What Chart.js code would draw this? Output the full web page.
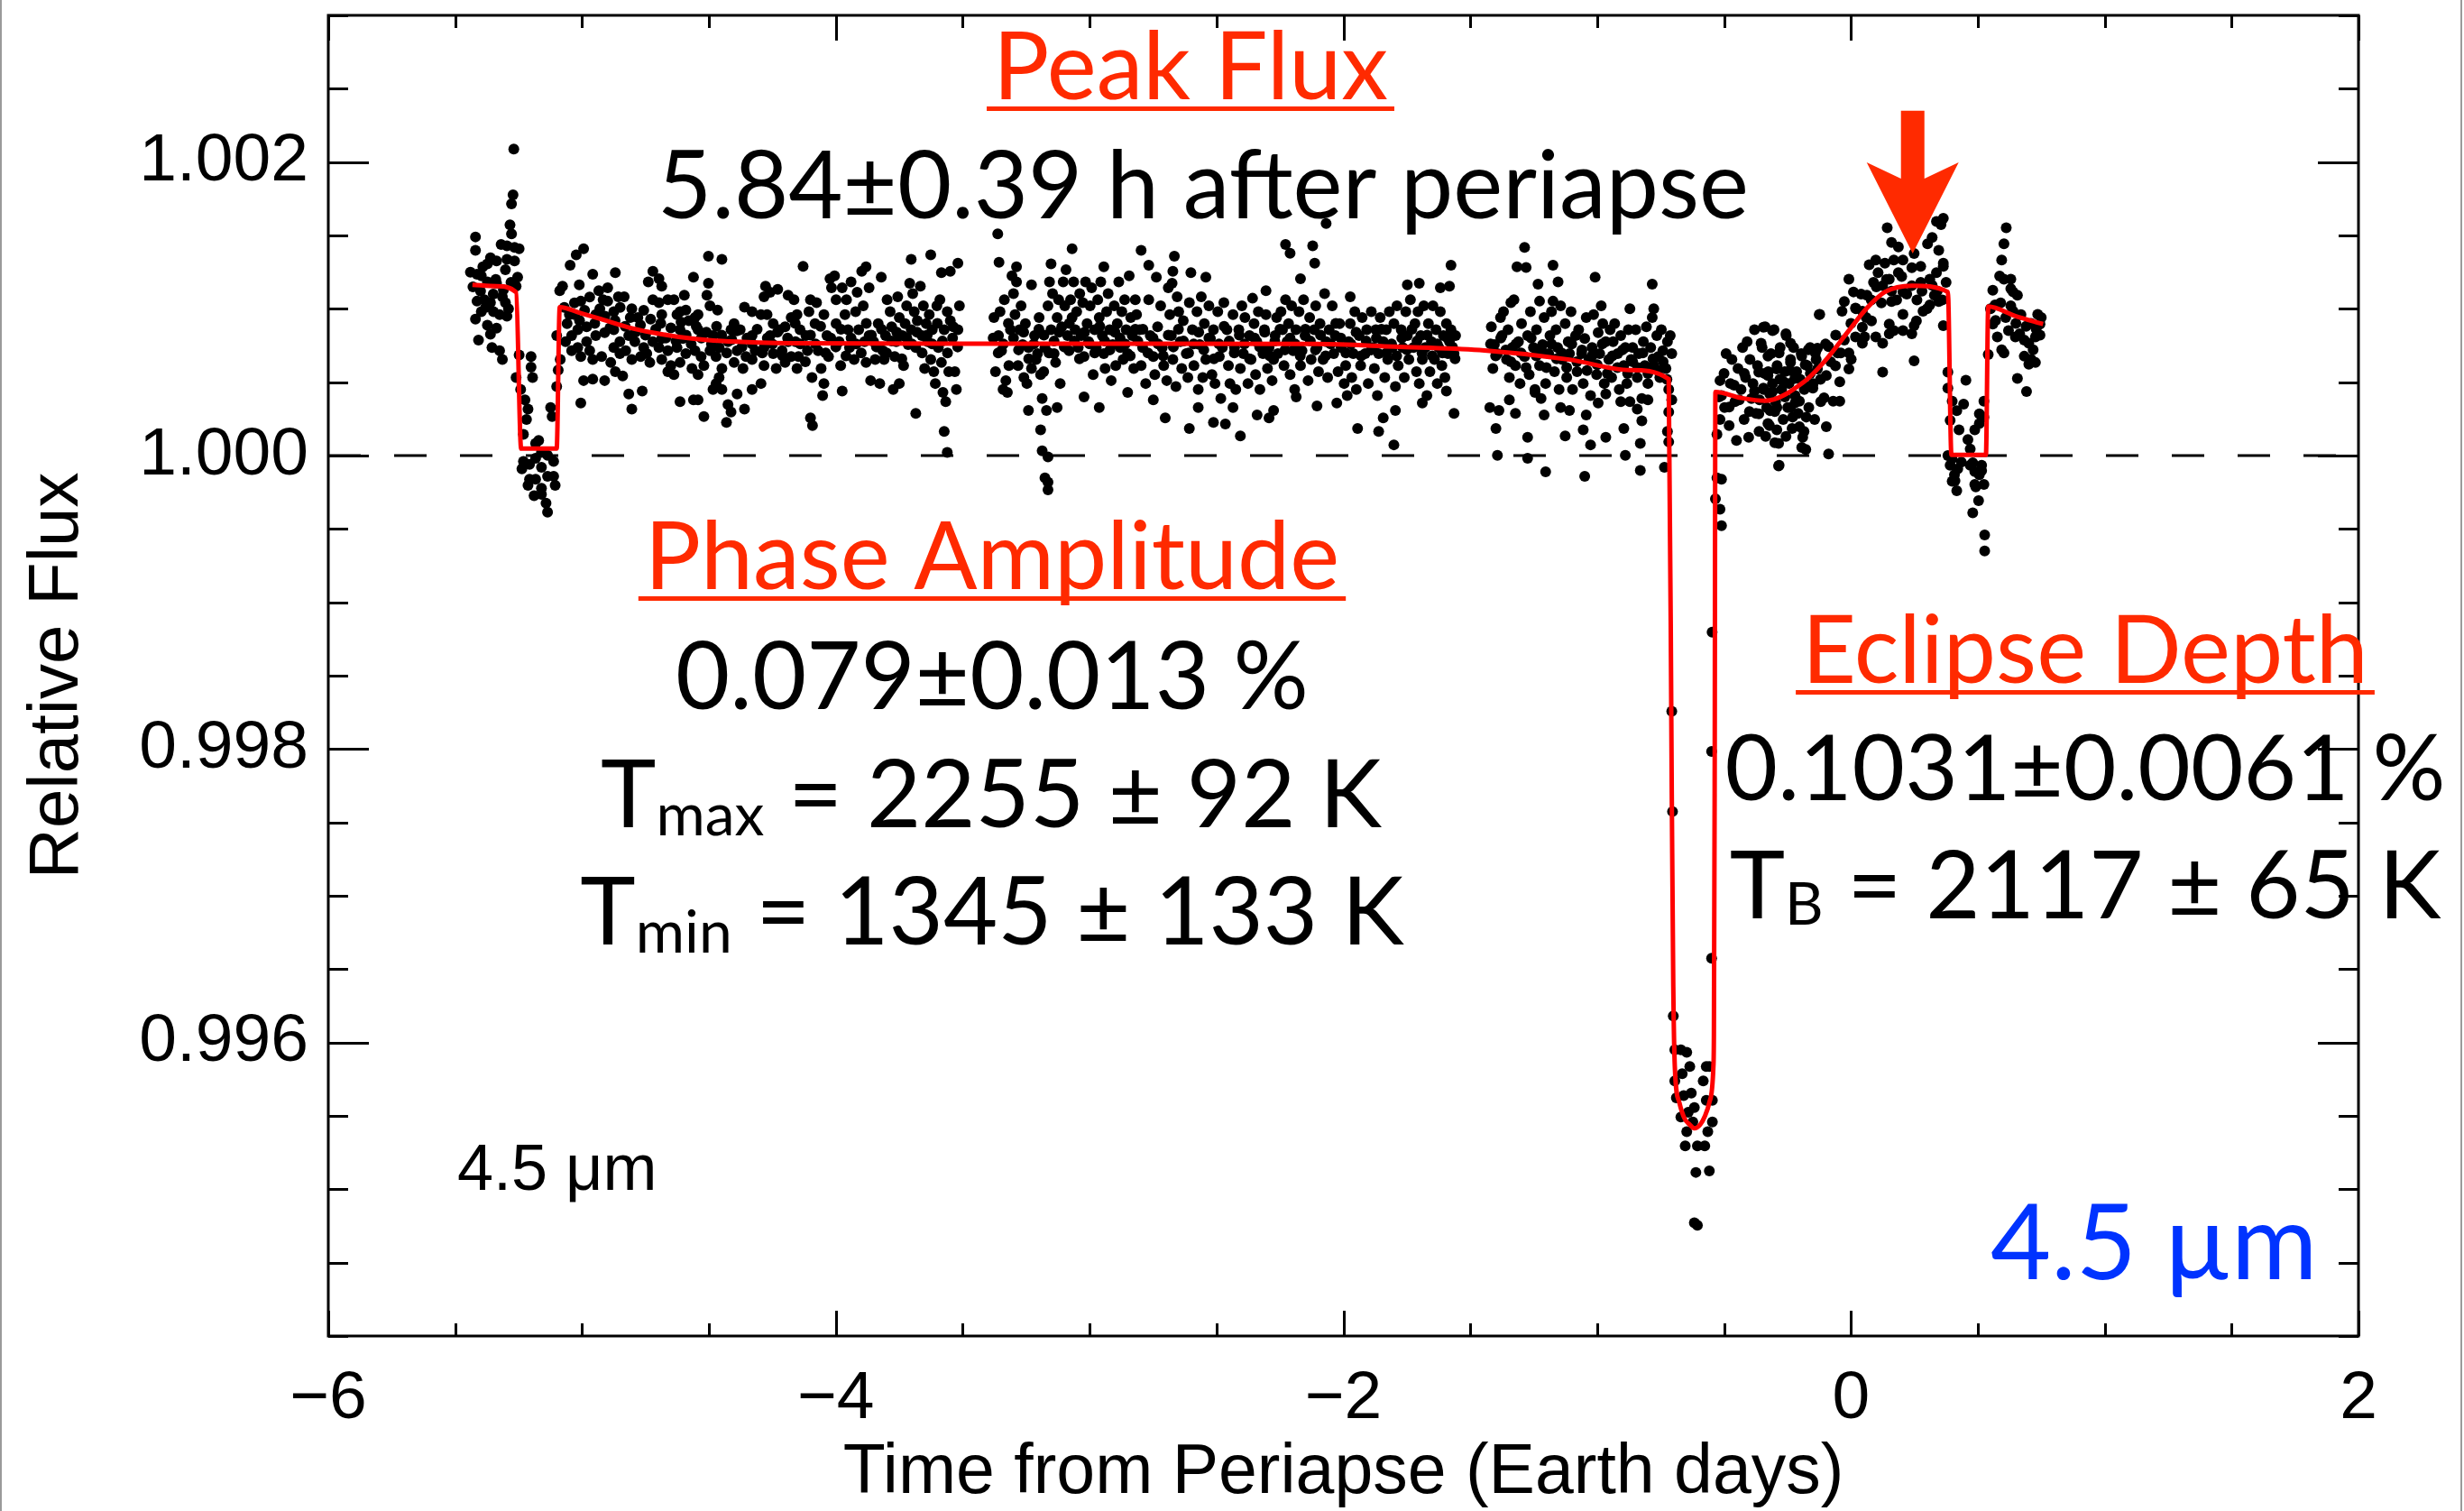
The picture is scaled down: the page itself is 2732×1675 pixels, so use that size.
<!DOCTYPE html>
<html>
<head>
<meta charset="utf-8">
<style>
  html, body { margin: 0; padding: 0; background: #ffffff; }
  #wrap { position: relative; width: 2732px; height: 1675px; }
</style>
<script src="https://cdn.jsdelivr.net/npm/chart.js@4.4.1/dist/chart.umd.min.js"></script>
</head>
<body>
<div id="wrap"><canvas id="lightcurve" width="2732" height="1675"></canvas></div>
<script>
// Axis ranges and labelled ticks
const xRange = [-6, 2];
const yRange = [0.994, 1.003];
const xTickValues = [-6, -4, -2, 0, 2];
const yTickValues = [0.996, 0.998, 1.000, 1.002];

// Photometry: [time from periapse (days), flux offset (ppm of stellar flux)]
const obsBeforeEclipse1 = [
  [-5.269,2088],[-5.272,1776],[-5.278,1715],[-5.284,1572],[-5.278,1511],[-5.420,1490],[-5.420,1399],[-5.319,1439],
  [-5.296,1429],[-5.266,1419],[-5.248,1409],[-5.361,1348],[-5.337,1327],[-5.296,1337],[-5.266,1327],[-5.391,1286],
  [-5.373,1307],[-5.302,1266],[-5.414,1235],[-5.397,1225],[-5.254,1215],[-5.373,1184],[-5.337,1174],[-5.260,1154],
  [-5.414,1052],[-5.385,1062],[-5.361,1042],[-5.314,1082],[-5.302,1042],[-5.397,980],[-5.349,980],[-5.325,960],
  [-5.296,950],[-5.373,889],[-5.337,868],[-5.361,827],[-5.408,787],[-5.355,736],[-5.325,715],[-5.314,654],
  [-5.430,1150],[-5.400,1120],[-5.350,1100],[-5.310,1130],[-5.280,1180],[-5.440,1250],[-5.380,1010],[-5.340,1200],
  [-5.290,1000],[-5.420,930]
];
const obsEclipse1 = [
  [-5.248,685],[-5.201,674],[-5.260,532],[-5.201,603],[-5.195,532],[-5.242,450],[-5.225,379],[-5.213,317],
  [-5.219,246],[-5.231,144],[-5.171,103],[-5.183,83],[-5.124,328],[-5.118,266],[-5.100,470],[-5.094,583],
  [-5.086,654],[-5.100,817],[-5.231,-40],[-5.237,-91],[-5.207,-60],[-5.183,-19],[-5.160,22],[-5.136,1],
  [-5.112,-40],[-5.160,-80],[-5.207,-162],[-5.213,-203],[-5.183,-162],[-5.160,-223],[-5.136,-142],[-5.112,-142],
  [-5.106,-203],[-5.189,-274],[-5.160,-264],[-5.142,-325],[-5.136,-386]
];
const obsOrbitA = [
  [-5.047,1297],[-5.023,1368],[-4.994,1409],[-4.958,1235],[-4.869,1246],[-5.088,1123],[-5.077,1154],[-5.011,1164],
  [-5.005,1052],[-4.934,1123],[-4.899,1144],[-4.917,1062],[-4.857,1082],[-4.834,1082],[-4.899,1052],[-4.804,1001],
  [-4.757,990],[-4.739,1184],[-4.721,1256],[-4.697,1205],[-4.686,1154],[-4.721,1062],[-4.697,1042],[-4.662,1062],
  [-4.638,1062],[-4.561,1215],[-4.502,1358],[-4.449,1337],[-4.502,1174],[-4.508,1093],[-4.496,1021],[-4.466,991],
  [-4.597,1093],[-4.591,991],[-4.626,960],[-4.579,919],[-4.555,940],[-4.614,858],[-4.277,1154],[-4.259,1113],
  [-4.229,1133],[-4.283,1082],[-4.188,1093],[-4.360,1011],[-4.330,980],[-4.295,960],[-4.247,899],[-4.200,878],
  [-5.059,899],[-5.017,858],[-4.982,878],[-5.041,817],[-4.982,776],[-4.946,817],[-4.911,838],[-4.875,858],
  [-4.851,776],[-4.816,817],[-4.792,776],[-4.757,736],[-4.721,776],[-4.697,736],[-4.662,715],[-4.626,736],
  [-4.591,695],[-4.555,715],[-4.531,674],[-4.496,715],[-4.460,736],[-4.425,776],[-4.389,715],[-4.354,674],
  [-4.318,715],[-4.283,736],[-4.247,695],[-4.212,715],[-4.176,674],[-5.041,715],[-5.005,674],[-4.958,654],
  [-4.923,674],[-4.887,634],[-4.851,695],[-4.804,654],[-4.769,674],[-4.733,634],[-4.686,654],[-4.650,613],
  [-4.614,634],[-4.567,593],[-4.520,613],[-4.472,674],[-4.449,593],[-4.401,634],[-4.366,593],[-4.330,654],
  [-4.283,613],[-4.235,593],[-4.200,634],[-5.065,776],[-5.017,736],[-4.970,715],[-4.875,736],[-4.828,715],
  [-4.745,695],[-4.686,797],[-4.603,797],[-4.543,858],[-4.484,817],[-4.413,858],[-4.377,858],[-4.330,817],
  [-4.259,817],[-4.223,858],[-4.188,776],[-4.994,511],[-4.958,521],[-4.911,511],[-4.869,572],[-4.840,542],
  [-4.816,419],[-4.804,317],[-4.763,440],[-5.005,358],[-4.638,552],[-4.614,368],[-4.561,379],[-4.543,379],
  [-4.520,266],[-4.484,450],[-4.472,491],[-4.449,450],[-4.425,348],[-4.431,226],[-4.413,297],[-4.389,419],
  [-4.360,317],[-4.330,450],[-4.295,491],[-4.543,552],[-4.460,532],[-4.662,572],[-4.780,940],[-4.686,960],
  [-4.614,980],[-4.543,960],[-4.401,899],[-4.271,960],[-4.176,940],[-4.946,960],[-4.875,980],[-5.029,960],
  [-5.07,1010],[-5.05,960],[-5.03,1040],[-5.01,920],[-4.99,990],[-4.97,1080],[-4.95,900],[-4.93,1000],
  [-4.91,950],[-4.89,870],[-4.87,920],[-4.85,1010],[-4.83,880],[-4.81,940],[-4.79,840],[-4.77,890],
  [-4.75,820],[-4.73,930],[-4.71,860],[-4.69,900],[-4.67,800],[-4.65,870],[-4.63,780],[-4.61,910],
  [-4.59,820],[-4.57,760],[-4.55,880],[-4.53,800],[-4.51,840],[-4.49,760],[-4.47,880],[-4.45,820],
  [-4.43,700],[-4.41,790],[-4.39,850],[-4.37,740],[-4.35,800],[-4.33,760],[-4.31,860],[-4.29,700],
  [-4.27,800],[-4.25,760],[-4.23,840],[-4.21,680],[-4.19,800]
];
const obsOrbitB = [
  [-4.165,1062],[-4.153,960],[-4.141,858],[-4.159,776],[-4.147,674],[-4.153,593],[-4.118,817],[-4.106,980],
  [-4.100,1062],[-4.112,715],[-4.094,532],[-4.082,899],[-4.076,1042],[-4.070,715],[-4.058,593],[-4.047,960],
  [-4.047,491],[-4.035,817],[-4.029,674],[-4.023,1205],[-4.017,1144],[-4.005,1225],[-3.999,1062],[-3.999,899],
  [-3.987,776],[-3.981,613],[-3.975,1144],[-3.975,440],[-3.964,960],[-3.958,1062],[-3.952,858],[-3.946,736],
  [-3.940,1184],[-3.928,654],[-3.922,980],[-3.916,1113],[-3.910,858],[-3.898,1256],[-3.892,1021],[-3.887,776],
  [-3.881,1286],[-3.881,634],[-3.869,1144],[-3.869,817],[-3.863,511],[-3.851,776],[-3.845,654],[-3.833,899],
  [-3.827,491],[-3.821,1215],[-3.815,715],[-3.810,654],[-3.804,817],[-3.798,1062],[-3.786,980],[-3.780,878],
  [-3.774,450],[-3.768,674],[-3.762,776],[-3.756,1082],[-3.750,940],[-3.750,491],[-3.738,817],[-3.733,613],
  [-3.727,899],[-3.721,1021],[-3.715,756],[-3.709,1174],[-3.703,858],[-3.697,1103],[-3.691,980],[-3.685,736],
  [-3.679,919],[-3.667,1154],[-3.661,817],[-3.655,1021],[-3.650,593],[-3.644,899],[-3.638,776],[-3.632,960],
  [-3.626,654],[-3.620,858],[-3.614,572],[-3.608,491],[-3.602,1021],[-3.596,736],[-3.590,1062],[-3.584,634],
  [-3.578,430],[-3.573,858],[-3.567,368],[-3.561,980],[-3.555,572],[-3.549,919],[-3.537,878],[-3.531,572],
  [-3.525,450],[-3.519,858],[-3.513,1021],[-4.129,1290],[-4.100,256],[-4.092,205],[-4.052,409],[-3.685,287],
  [-3.703,1337],[-3.626,1368],[-3.584,1246],[-3.549,1256],[-3.519,1311],[-3.573,164],[-3.561,22],
  [-3.377,940],[-3.371,572],[-3.359,817],[-3.353,980],[-3.347,715],[-3.341,450],[-3.336,1062],[-3.330,511],
  [-3.324,430],[-3.318,613],[-3.312,858],[-3.306,1225],[-3.300,1103],[-3.294,960],[-3.288,1184],[-3.282,613],
  [-3.276,858],[-3.270,1021],[-3.264,756],[-3.259,532],[-3.253,899],[-3.247,491],[-3.241,736],[-3.229,1164],
  [-3.229,593],[-3.217,817],[-3.211,654],[-3.205,695],[-3.199,940],[-3.193,552],[-3.187,389],[-3.181,572],
  [-3.176,736],[-3.164,1021],[-3.158,1184],[-3.152,858],[-3.146,1103],[-3.140,695],[-3.134,634],[-3.128,940],
  [-3.122,1062],[-3.116,491],[-3.110,878],[-3.104,1184],[-3.098,1021],[-3.093,1266],[-3.087,817],[-3.081,715],
  [-3.075,1062],[-3.069,940],[-3.063,1184],[-3.057,858],[-3.051,980],[-3.045,736],[-3.039,1103],[-3.033,817],
  [-3.027,1042],[-3.022,674],[-3.016,1184],[-3.010,899],[-3.004,776],[-2.998,1021],[-2.992,1144],[-2.986,552],
  [-2.980,858],[-2.974,736],[-2.968,1062],[-2.962,940],[-2.956,1184],[-2.950,817],[-2.944,695],[-2.939,593],
  [-2.933,980],[-2.927,1103],[-2.921,858],[-2.915,511],[-2.909,756],[-2.903,1021],[-2.897,613],[-2.891,899],
  [-2.885,1184],[-2.879,736],[-2.873,980],[-2.868,654],[-2.862,1062],[-2.856,858],[-2.850,695],[-2.844,1225],
  [-2.838,940],[-2.832,817],[-2.826,593],[-2.820,1062],[-3.362,1511],[-3.357,1317],[-3.288,1286],[-3.152,1307],
  [-3.069,1409],[-2.944,1286],[-3.241,307],[-3.170,307],[-3.128,328],[-3.193,175],[-3.187,32],[-3.164,-9],
  [-3.176,-152],[-3.164,-182],[-3.164,-233],[-2.962,328],[-3.022,399],[-2.850,430],
  [-4.16,900],[-4.14,760],[-4.12,640],[-4.10,820],[-4.08,760],[-4.06,880],[-4.04,700],[-4.02,800],
  [-4.00,740],[-3.98,860],[-3.96,680],[-3.94,800],[-3.92,760],[-3.90,700],[-3.88,900],[-3.86,820],
  [-3.84,740],[-3.82,860],[-3.80,700],[-3.78,780],[-3.76,840],[-3.74,660],[-3.72,800],[-3.70,760],
  [-3.68,840],[-3.66,700],[-3.64,820],[-3.62,760],[-3.60,900],[-3.58,780],[-3.56,700],[-3.54,800],
  [-3.52,740],[-3.38,800],[-3.36,700],[-3.34,760],[-3.32,900],[-3.30,800],[-3.28,720],[-3.26,840],
  [-3.24,660],[-3.22,760],[-3.20,860],[-3.18,820],[-3.16,700],[-3.14,780],[-3.12,840],[-3.10,740],
  [-3.08,900],[-3.06,780],[-3.04,660],[-3.02,840],[-3.00,760],[-2.98,700],[-2.96,880],[-2.94,780],
  [-2.92,720],[-2.90,840],[-2.88,800],[-2.86,760],[-2.84,680],[-2.82,860]
];
const obsOrbitC = [
  [-2.815,960],[-2.803,858],[-2.791,736],[-2.797,613],[-2.779,491],[-2.767,1062],[-2.761,817],[-2.749,674],
  [-2.743,552],[-2.732,878],[-2.720,1021],[-2.714,736],[-2.708,613],[-2.696,511],[-2.690,1144],[-2.684,960],
  [-2.678,817],[-2.672,654],[-2.660,470],[-2.655,1082],[-2.649,980],[-2.643,776],[-2.637,593],[-2.631,919],
  [-2.619,695],[-2.613,532],[-2.607,1042],[-2.595,858],[-2.589,613],[-2.577,980],[-2.572,450],[-2.566,756],
  [-2.560,1082],[-2.554,532],[-2.548,899],[-2.542,654],[-2.530,1021],[-2.524,797],[-2.518,552],[-2.512,858],
  [-2.506,491],[-2.495,980],[-2.489,674],[-2.483,389],[-2.477,736],[-2.471,1042],[-2.459,858],[-2.453,613],
  [-2.447,491],[-2.435,960],[-2.429,736],[-2.424,450],[-2.412,858],[-2.406,593],[-2.400,1021],[-2.394,695],
  [-2.388,940],[-2.376,491],[-2.370,817],[-2.364,654],[-2.352,899],[-2.346,552],[-2.341,776],[-2.335,980],
  [-2.329,450],[-2.317,695],[-2.311,858],[-2.305,960],[-2.299,593],[-2.293,736],[-2.281,511],[-2.275,654],
  [-2.269,817],[-2.263,940],[-2.258,695],[-2.246,980],[-2.240,858],[-2.234,613],[-2.228,1062],[-2.222,776],
  [-2.216,899],[-2.210,552],[-2.204,1021],[-2.198,715],[-2.192,450],[-2.187,858],[-2.175,980],[-2.169,613],
  [-2.163,715],[-2.157,1062],[-2.151,817],[-2.139,511],[-2.133,940],[-2.127,654],[-2.115,858],[-2.109,1021],
  [-2.104,736],[-2.098,572],[-2.092,899],[-2.080,654],[-2.074,1103],[-2.068,776],[-2.062,532],[-2.056,858],
  [-2.044,1021],[-2.038,695],[-2.032,817],[-2.021,572],[-2.015,899],[-2.009,736],[-1.997,491],[-1.991,613],
  [-1.985,409],[-1.979,776],[-1.973,899],[-1.967,532],[-1.961,695],[-1.955,980],[-1.949,450],[-1.938,817],
  [-1.932,613],[-1.926,940],[-1.914,695],[-1.908,858],[-1.902,491],[-1.890,980],[-1.884,736],[-1.878,593],
  [-1.872,858],[-1.866,409],[-1.861,695],[-1.855,940],[-1.843,776],[-1.837,532],[-1.831,858],[-1.825,654],
  [-1.819,980],[-1.807,736],[-1.801,899],[-1.795,470],[-1.789,1021],[-1.784,613],[-1.772,858],[-1.766,736],
  [-1.760,532],[-1.754,980],[-1.748,817],[-1.742,654],[-1.736,1062],[-1.724,736],[-1.718,899],[-1.712,572],
  [-1.706,980],[-1.701,491],[-1.695,817],[-1.689,654],[-1.683,1021],[-1.677,736],[-1.671,409],[-1.665,899],
  [-1.659,572],[-1.653,776],[-1.647,1021],[-1.641,654],[-1.635,858],[-1.630,491],[-1.624,736],[-1.618,980],
  [-1.612,613],[-1.606,817],[-1.600,532],[-1.594,899],[-1.588,695],[-1.582,776],[-1.576,858],[-1.564,695],
  [-1.558,817],[-2.797,1399],[-2.767,1297],[-2.666,1358],[-2.672,1256],[-2.601,1246],[-2.542,1215],[-2.737,1215],
  [-2.675,1174],[-2.228,1439],[-2.210,1378],[-2.121,1429],[-2.113,1311],[-2.068,1582],[-2.169,1205],[-1.576,1297],
  [-1.701,1174],[-1.748,1164],[-1.582,1154],[-1.618,1144],[-1.973,1082],[-2.305,1123],[-2.358,1072],[-2.749,379],
  [-2.702,256],[-2.607,185],[-2.512,226],[-2.465,215],[-2.406,134],[-2.340,277],[-2.293,256],[-2.275,307],
  [-2.435,328],[-2.572,328],[-2.186,399],[-2.104,338],[-2.026,358],[-1.944,185],[-1.861,164],[-1.843,256],
  [-1.795,307],[-1.801,73],[-1.689,358],[-1.564,287],[-1.594,440],
  [-2.81,780],[-2.79,860],[-2.77,700],[-2.75,800],[-2.73,760],[-2.71,680],[-2.69,820],[-2.67,740],
  [-2.65,860],[-2.63,780],[-2.61,700],[-2.59,760],[-2.57,840],[-2.55,720],[-2.53,800],[-2.51,660],
  [-2.49,760],[-2.47,880],[-2.45,780],[-2.43,700],[-2.41,820],[-2.39,760],[-2.37,660],[-2.35,800],
  [-2.33,740],[-2.31,840],[-2.29,680],[-2.27,780],[-2.25,860],[-2.23,720],[-2.21,800],[-2.19,760],
  [-2.17,680],[-2.15,860],[-2.13,780],[-2.11,720],[-2.09,820],[-2.07,680],[-2.05,760],[-2.03,900],
  [-2.01,800],[-1.99,700],[-1.97,760],[-1.95,840],[-1.93,680],[-1.91,780],[-1.89,720],[-1.87,800],
  [-1.85,860],[-1.83,700],[-1.81,760],[-1.79,680],[-1.77,800],[-1.75,720],[-1.73,860],[-1.71,780],
  [-1.69,700],[-1.67,820],[-1.65,680],[-1.63,760],[-1.61,700],[-1.59,800],[-1.57,740],[-1.56,660]
];
const obsOrbitD = [
  [-1.417,878],[-1.405,756],[-1.411,593],[-1.393,695],[-1.381,940],[-1.375,817],[-1.369,980],[-1.357,654],
  [-1.351,858],[-1.346,532],[-1.340,1042],[-1.334,736],[-1.322,613],[-1.310,776],[-1.304,491],[-1.298,899],
  [-1.286,674],[-1.274,817],[-1.268,552],[-1.263,980],[-1.251,736],[-1.245,450],[-1.239,858],[-1.227,613],
  [-1.215,756],[-1.209,940],[-1.203,491],[-1.191,695],[-1.186,817],[-1.180,980],[-1.168,572],[-1.162,858],
  [-1.156,736],[-1.150,450],[-1.144,1021],[-1.138,654],[-1.126,899],[-1.120,532],[-1.114,776],[-1.109,695],
  [-1.103,980],[-1.097,450],[-1.085,817],[-1.079,572],[-1.073,858],[-1.061,695],[-1.055,491],[-1.049,797],
  [-1.043,940],[-1.032,654],[-1.026,409],[-1.020,736],[-1.014,960],[-1.002,552],[-0.996,838],[-0.990,695],
  [-0.978,899],[-0.972,491],[-0.966,776],[-0.954,654],[-0.949,858],[-0.943,532],[-0.937,776],[-0.931,899],
  [-0.919,695],[-0.913,450],[-0.907,817],[-0.895,613],[-0.889,736],[-0.883,491],[-0.877,858],[-0.871,368],
  [-0.866,654],[-0.860,736],[-0.848,858],[-0.842,532],[-0.836,695],[-0.824,389],[-0.818,776],[-0.812,613],
  [-0.806,878],[-0.800,491],[-0.789,736],[-0.783,940],[-0.777,613],[-0.765,817],[-0.759,674],[-0.753,532],
  [-0.747,858],[-0.741,715],[-0.729,593],[-0.723,776],[-0.718,450],[-0.712,817],[-0.706,695],
  [-1.286,1419],[-1.316,1286],[-1.280,1282],[-1.174,1297],[-1.233,1168],[-1.154,1184],[-1.008,1215],[-0.783,1168],
  [-1.328,1062],[-1.227,1052],[-1.174,1052],[-0.984,1021],[-0.871,1001],[-0.777,1001],[-1.393,1],[-1.274,-19],
  [-1.203,-111],[-1.049,-142],[-1.026,73],[-0.966,124],[-0.889,1],[-0.830,-101],[-0.830,83],[-0.735,-80],
  [-0.718,93],[-1.399,185],[-1.274,124],[-1.126,134],[-1.055,175],[-0.895,185],[-0.824,236],[-0.723,164],
  [-0.718,297],[-1.423,328],[-1.387,307],[-1.322,287],[-1.209,277],[-1.144,328],[-1.109,307],[-1.043,277],
  [-0.996,358],[-0.907,368],[-0.842,317],[-0.800,379],[-0.966,419],[-1.346,379],[-1.245,430],[-1.221,389],
  [-0.706,379],
  [-1.42,760],[-1.40,680],[-1.38,800],[-1.36,720],[-1.34,640],[-1.32,760],[-1.30,700],[-1.28,600],
  [-1.26,800],[-1.24,680],[-1.22,720],[-1.20,600],[-1.18,760],[-1.16,660],[-1.14,700],[-1.12,600],
  [-1.10,760],[-1.08,640],[-1.06,720],[-1.04,580],[-1.02,680],[-1.00,620],[-0.98,760],[-0.96,560],
  [-0.94,680],[-0.92,600],[-0.90,720],[-0.88,560],[-0.86,640],[-0.84,600],[-0.82,700],[-0.80,560],
  [-0.78,660],[-0.76,580],[-0.74,640],[-0.725,520]
];
const obsTransit = [
  [-0.706,-1743],[-0.703,-2426],[-0.700,-3819],[-0.547,-1204],[-0.549,-2016],[-0.549,-3426],
  [-0.694,-4049],[-0.670,-4049],[-0.647,-4066],[-0.635,-4164],[-0.665,-4213],[-0.694,-4262],[-0.570,-4164],
  [-0.558,-4164],[-0.582,-4262],[-0.688,-4377],[-0.659,-4361],[-0.629,-4345],[-0.570,-4394],[-0.546,-4394],
  [-0.670,-4508],[-0.641,-4476],[-0.617,-4443],[-0.623,-4541],[-0.546,-4541],[-0.647,-4607],[-0.564,-4607],
  [-0.653,-4705],[-0.605,-4705],[-0.576,-4705],[-0.611,-4885],[-0.558,-4875],[-0.617,-5229],[-0.605,-5246]
];
const obsAfterTransit = [
  [-0.516,246],[-0.528,144],[-0.516,511],[-0.510,409],[-0.498,328],[-0.492,695],[-0.480,205],[-0.475,491],
  [-0.469,654],[-0.457,368],[-0.451,103],[-0.445,593],[-0.433,450],[-0.427,736],[-0.421,246],[-0.415,532],
  [-0.409,776],[-0.403,124],[-0.398,654],[-0.392,389],[-0.386,491],[-0.380,858],[-0.374,287],[-0.368,613],
  [-0.362,164],[-0.350,736],[-0.344,450],[-0.338,878],[-0.332,328],[-0.326,572],[-0.321,205],[-0.315,695],
  [-0.309,491],[-0.303,858],[-0.297,368],[-0.291,613],[-0.285,83],[-0.279,736],[-0.273,450],[-0.267,246],
  [-0.261,572],[-0.255,817],[-0.249,328],[-0.244,491],[-0.238,654],[-0.232,185],[-0.226,736],[-0.220,409],
  [-0.214,572],[-0.208,287],[-0.196,695],[-0.190,124],[-0.184,450],[-0.178,42],[-0.172,613],[-0.166,328],
  [-0.161,736],[-0.149,491],[-0.143,246],[-0.137,654],[-0.125,960],[-0.119,368],[-0.285,-70],[-0.528,-152],
  [-0.510,-162],[-0.534,-295],[-0.516,-366],[-0.510,-478],
  [-0.345,874],[-0.309,852],[-0.256,830],[-0.354,765],[-0.327,677],[-0.283,699],[-0.238,765],[-0.363,568],
  [-0.327,546],[-0.292,590],[-0.238,634],[-0.194,677],[-0.168,721],[-0.132,732],[-0.088,743],[-0.132,590],
  [-0.097,546],[-0.061,612],[-0.008,590],[-0.345,459],[-0.309,437],[-0.265,503],[-0.221,525],[-0.185,481],
  [-0.150,459],[-0.106,393],[-0.070,371],[-0.044,371],[-0.363,284],[-0.318,306],[-0.292,328],[-0.238,328],
  [-0.203,371],[-0.327,218],[-0.292,175],[-0.336,131],[-0.300,87],[-0.256,131],[-0.203,197],[-0.185,164],
  [-0.194,55],[-0.097,197],[-0.088,11],[-0.283,-66],[-0.123,962],[-0.035,984],[-0.230,262],[-0.176,262],
  [-0.52,400],[-0.50,560],[-0.48,330],[-0.46,480],[-0.44,380],[-0.42,560],[-0.40,300],[-0.38,440],
  [-0.36,380],[-0.34,560],[-0.32,420],[-0.30,300],[-0.28,520],[-0.26,400],[-0.24,580],[-0.22,360],
  [-0.20,520],[-0.18,620],[-0.16,560],[-0.14,700],[-0.12,520],[-0.10,760],[-0.08,640],[-0.06,820],[-0.04,700]
];
const obsNearPeak = [
  [-0.008,1202],[0.010,1115],[-0.026,1049],[0.018,1005],[0.063,1093],[0.045,984],[0.072,1300],[0.098,1333],
  [0.107,1246],[0.134,1311],[0.089,1180],[0.125,1158],[0.151,1202],[0.169,1333],[0.187,1246],[0.160,1049],
  [0.205,1115],[0.240,1158],[0.275,1180],[0.311,1202],[0.337,1246],[0.364,1290],[0.045,874],[0.081,918],
  [0.098,809],[0.125,765],[0.151,896],[0.169,852],[0.205,852],[0.240,830],[0.249,885],[-0.026,787],
  [0.018,809],[0.045,765],[-0.008,699],[-0.052,699],[-0.044,503],[0.001,656],[0.054,809],[0.125,568],
  [0.249,645],[0.143,1552],[0.160,1453],[0.187,1421],[0.205,1333],[0.231,1508],[0.249,1377],[0.275,1290],
  [0.302,1443],[0.320,1486],[0.337,1595],[0.355,1574],[0.364,1617],[0.346,1399],[0.364,1311],[0.284,984],
  [0.311,1027],[0.329,1093],[0.346,1049],[0.364,885],[0.258,918],[0.151,830],[0.205,962],
  [0.00,900],[0.02,1000],[0.04,1100],[0.06,940],[0.08,1060],[0.10,1150],[0.12,1040],[0.14,1200],
  [0.16,1120],[0.18,1060],[0.20,1220],[0.22,1100],[0.24,1280],[0.26,1060],[0.28,1120],[0.30,1000],
  [0.32,1160],[0.34,1120],[0.36,1060],[0.375,1180]
];
const obsEclipse2 = [
  [0.382,568],[0.382,459],[0.399,371],[0.417,306],[0.444,350],[0.453,514],[0.391,240],[0.426,175],
  [0.461,109],[0.488,175],[0.506,284],[0.506,218],[0.524,371],[0.524,262],[0.391,-66],[0.408,-131],
  [0.399,-175],[0.435,-44],[0.470,-66],[0.488,-109],[0.515,-66],[0.506,-131],[0.488,-197],[0.524,-197],
  [0.417,-240],[0.470,44],[0.382,0],[0.398,-21],[0.421,-90],[0.410,-172],[0.480,-49],[0.515,-103],
  [0.492,-213],[0.503,-308],[0.480,-390],[0.527,-541],[0.527,-650]
];
const obsAfterEclipse2 = [
  [0.559,1126],[0.586,1224],[0.594,1333],[0.603,1443],[0.612,1552],[0.603,1202],[0.630,1137],[0.656,1093],
  [0.630,1202],[0.639,1115],[0.568,1027],[0.559,896],[0.577,809],[0.594,721],[0.621,852],[0.648,809],
  [0.665,830],[0.683,787],[0.701,765],[0.718,721],[0.727,809],[0.745,820],[0.683,677],[0.710,656],
  [0.727,634],[0.701,623],[0.736,962],[0.745,896],[0.541,688],[0.603,699],[0.656,525],[0.692,437],[0.639,984],
  [0.55,1000],[0.57,920],[0.59,1040],[0.61,940],[0.63,1020],[0.65,900],[0.67,960],[0.69,880],
  [0.71,900],[0.73,860],[0.75,940]
];

// Best-fit phase curve with eclipses and transit: [time (days), flux offset (ppm)]
const modelCurve = [
  [-5.432,1164],[-5.337,1154],[-5.260,1113],[-5.240,47],[-5.100,47],[-5.088,1011],[-5.005,970],[-4.923,929],
  [-4.804,868],[-4.686,827],[-4.567,797],[-4.449,780],[-4.300,770],[-4.165,766],[-3.500,763],[-2.815,763],
  [-2.104,760],[-1.800,742],[-1.464,719],[-1.109,654],[-0.871,583],[-0.718,521],[-0.706,-2300],[-0.700,-3620],
  [-0.694,-4164],[-0.676,-4410],[-0.655,-4520],[-0.635,-4560],[-0.617,-4585],[-0.594,-4560],[-0.575,-4500],
  [-0.558,-4410],[-0.542,-4164],[-0.540,-3950],[-0.537,-2300],[-0.534,434],[-0.433,393],[-0.339,373],
  [-0.185,503],[-0.097,656],[-0.008,852],[0.063,1005],[0.134,1115],[0.240,1158],[0.382,1115],[0.396,4],
  [0.532,4],[0.541,1016],[0.648,951],[0.757,896]
];

// Fitted quantities quoted on the figure
const peakOffsetHours = 5.84;
const peakArrow = { topPpm: 2350, tipPpm: 1377 };

const toFlux = ([t, ppm]) => ({ x: t, y: 1 + ppm * 1e-6 });
const observations = [].concat(
  obsBeforeEclipse1, obsEclipse1, obsOrbitA, obsOrbitB, obsOrbitC, obsOrbitD,
  obsTransit, obsAfterTransit, obsNearPeak, obsEclipse2, obsAfterEclipse2
).map(toFlux);

const RED = '#ff2a00';
const GILL = "'Gill Sans', 'Gill Sans MT', Lato, sans-serif";
const HELV = "'Liberation Sans', Arial, Helvetica, sans-serif";

function drawRich(ctx, parts, cx, baseline, color) {
  let total = 0;
  parts.forEach(p => { ctx.font = p.font; p.w = ctx.measureText(p.t).width; total += p.w; });
  let xx = cx - total / 2;
  ctx.fillStyle = color;
  ctx.textAlign = 'left';
  ctx.textBaseline = 'alphabetic';
  parts.forEach(p => { ctx.font = p.font; ctx.fillText(p.t, xx, baseline + (p.dy || 0)); xx += p.w; });
  return { left: cx - total / 2, width: total };
}

function heading(ctx, text, cx, baseline) {
  const r = drawRich(ctx, [{ t: text, font: `104px ${GILL}` }], cx, baseline, RED);
  ctx.fillStyle = RED;
  ctx.fillRect(r.left - 7, baseline + 8, r.width + 14, 5);
}

const figureDecor = {
  id: 'figureDecor',
  afterDatasetsDraw(chart) {
    const { ctx, chartArea: a, scales: { x, y } } = chart;
    ctx.save();
    ctx.strokeStyle = '#000';
    ctx.lineWidth = 3;
    ctx.lineCap = 'butt';
    ctx.strokeRect(a.left, a.top, a.right - a.left, a.bottom - a.top);
    ctx.beginPath();
    for (let i = 0; i <= 16; i++) {
      const v = xRange[0] + i * 0.5;
      const px = Math.round(x.getPixelForValue(v)) + 0.5;
      const len = xTickValues.some(t => Math.abs(t - v) < 1e-9) ? 28 : 14;
      ctx.moveTo(px, a.bottom); ctx.lineTo(px, a.bottom - len);
      ctx.moveTo(px, a.top); ctx.lineTo(px, a.top + len);
    }
    for (let i = 0; i <= 18; i++) {
      const v = yRange[0] + i * 0.0005;
      const py = Math.round(y.getPixelForValue(v)) + 0.5;
      const len = yTickValues.some(t => Math.abs(t - v) < 1e-9) ? 45 : 22;
      ctx.moveTo(a.left, py); ctx.lineTo(a.left + len, py);
      ctx.moveTo(a.right, py); ctx.lineTo(a.right - len, py);
    }
    ctx.stroke();
    ctx.restore();
  },
  afterDraw(chart) {
    const { ctx, scales: { x, y } } = chart;
    ctx.save();

    // page edges
    ctx.fillStyle = '#9a9a9a';
    ctx.fillRect(0, 0, 2, chart.height);
    ctx.fillRect(chart.width - 4, 0, 2, chart.height);

    // peak-time arrow
    const ax = x.getPixelForValue(peakOffsetHours / 24);
    const yTop = y.getPixelForValue(1 + peakArrow.topPpm * 1e-6);
    const yTip = y.getPixelForValue(1 + peakArrow.tipPpm * 1e-6);
    const headLen = 101, barb = 51, shaft = 13, notch = 18;
    ctx.fillStyle = RED;
    ctx.beginPath();
    ctx.moveTo(ax - shaft, yTop);
    ctx.lineTo(ax + shaft, yTop);
    ctx.lineTo(ax + shaft, yTip - headLen + notch);
    ctx.lineTo(ax + barb, yTip - headLen);
    ctx.lineTo(ax, yTip);
    ctx.lineTo(ax - barb, yTip - headLen);
    ctx.lineTo(ax - shaft, yTip - headLen + notch);
    ctx.closePath();
    ctx.fill();

    const big = `104px ${GILL}`, sub = `66px ${GILL}`;
    heading(ctx, 'Peak Flux', 1320, 110);
    drawRich(ctx, [{ t: '5.84\u00b10.39 h after periapse', font: big }], 1334, 242, '#000');

    heading(ctx, 'Phase Amplitude', 1100, 653);
    drawRich(ctx, [{ t: '0.079\u00b10.013 %', font: big }], 1100, 786, '#000');
    drawRich(ctx, [{ t: 'T', font: big }, { t: 'max', font: sub, dy: 9 }, { t: ' = 2255 \u00b1 92 K', font: big }], 1099, 917, '#000');
    drawRich(ctx, [{ t: 'T', font: big }, { t: 'min', font: sub, dy: 9 }, { t: ' = 1345 \u00b1 133 K', font: big }], 1100, 1047, '#000');

    heading(ctx, 'Eclipse Depth', 2312, 757);
    drawRich(ctx, [{ t: '0.1031\u00b10.0061 %', font: `101px ${GILL}` }], 2312, 887, '#000');
    drawRich(ctx, [{ t: 'T', font: big }, { t: 'B', font: sub, dy: 7 }, { t: ' = 2117 \u00b1 65 K', font: big }], 2312, 1018, '#000');

    ctx.textAlign = 'left';
    ctx.textBaseline = 'alphabetic';
    ctx.fillStyle = '#000';
    ctx.font = `72px ${HELV}`;
    ctx.fillText('4.5 \u03bcm', 507, 1319);

    ctx.fillStyle = '#0033ff';
    ctx.font = `116px ${GILL}`;
    ctx.fillText('4.5 \u00b5m', 2207, 1418);
    ctx.restore();
  }
};

new Chart(document.getElementById('lightcurve'), {
  data: {
    datasets: [
      {
        type: 'line',
        label: 'Model',
        data: modelCurve.map(toFlux),
        borderColor: '#ff0000',
        borderWidth: 5,
        pointRadius: 0,
        cubicInterpolationMode: 'monotone',
        fill: false,
        order: 0
      },
      {
        type: 'scatter',
        label: 'Spitzer 4.5 \u03bcm',
        data: observations,
        pointRadius: 6,
        pointHoverRadius: 6,
        pointBackgroundColor: '#000',
        pointBorderWidth: 0,
        order: 1
      },
      {
        type: 'line',
        label: 'Stellar flux',
        data: [{ x: xRange[0], y: 1 }, { x: xRange[1], y: 1 }],
        borderColor: '#000',
        borderWidth: 3,
        borderDash: [36, 37],
        pointRadius: 0,
        fill: false,
        order: 2
      }
    ]
  },
  options: {
    responsive: false,
    devicePixelRatio: 1,
    animation: false,
    events: [],
    layout: { padding: { left: 0, top: 17, right: 117, bottom: 0 } },
    plugins: { legend: { display: false }, tooltip: { enabled: false } },
    scales: {
      x: {
        type: 'linear',
        min: xRange[0], max: xRange[1],
        grid: { display: false, drawTicks: false },
        border: { display: false },
        afterBuildTicks: s => { s.ticks = xTickValues.map(v => ({ value: v })); },
        afterFit: s => { s.height = 194; s.paddingLeft = 0; s.paddingRight = 0; },
        ticks: {
          autoSkip: false, maxRotation: 0, minRotation: 0, padding: 25, color: '#000',
          font: { family: HELV, size: 75, lineHeight: 1.2 },
          callback: v => (v < 0 ? '\u2212' + Math.abs(v) : String(v))
        },
        title: {
          display: true, text: 'Time from Periapse (Earth days)', color: '#000',
          font: { family: HELV, size: 77, lineHeight: 1 },
          padding: { top: 0, bottom: 3 }
        }
      },
      y: {
        type: 'linear',
        min: yRange[0], max: yRange[1],
        grid: { display: false, drawTicks: false },
        border: { display: false },
        afterBuildTicks: s => { s.ticks = yTickValues.map(v => ({ value: v })); },
        afterFit: s => { s.width = 364; s.paddingTop = 0; s.paddingBottom = 0; },
        ticks: {
          autoSkip: false, padding: 22, color: '#000',
          font: { family: HELV, size: 75, lineHeight: 1.2 },
          callback: v => v.toFixed(3)
        },
        title: {
          display: true, text: 'Relative Flux', color: '#000',
          font: { family: HELV, size: 78, lineHeight: 1 },
          padding: { top: 25, bottom: 0 }
        }
      }
    }
  },
  plugins: [figureDecor]
});
</script>
</body>
</html>
